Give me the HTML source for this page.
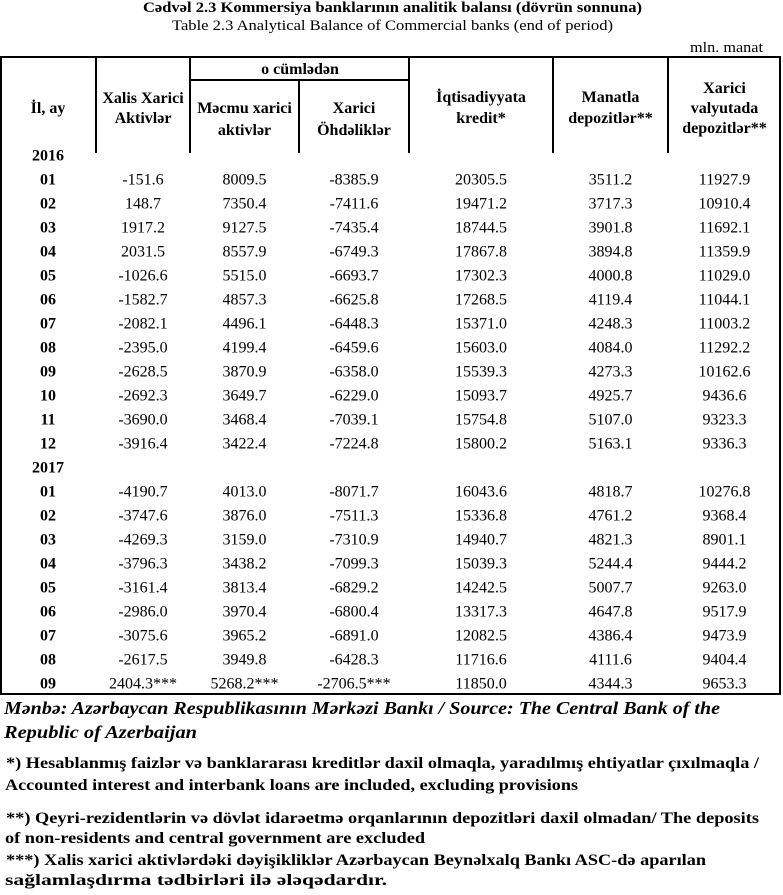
<!DOCTYPE html>
<html><head><meta charset="utf-8">
<style>
html,body{margin:0;padding:0;background:#fff;}
svg{display:block;}
text{font-family:"Liberation Serif","DejaVu Serif",serif;fill:#000;}
.d{font-size:16px;text-anchor:middle;}
.b{font-size:16px;font-weight:bold;text-anchor:middle;}
.h{font-size:16px;font-weight:bold;text-anchor:middle;}
.f{font-size:16px;font-weight:bold;}
.s{font-size:18px;font-weight:bold;font-style:italic;}
</style></head>
<body>
<svg width="783" height="895" viewBox="0 0 783 895" xmlns="http://www.w3.org/2000/svg">
<rect x="0" y="0" width="783" height="895" fill="#fff"/>
<text x="143" y="12" style="font-size:15px;font-weight:bold" textLength="499" lengthAdjust="spacingAndGlyphs">Cədvəl  2.3  Kommersiya banklarının analitik balansı (dövrün sonnuna)</text>
<text x="172" y="30" style="font-size:15px" textLength="441" lengthAdjust="spacingAndGlyphs">Table  2.3  Analytical Balance of Commercial banks (end of period)</text>
<text x="690" y="52" style="font-size:15px" textLength="73" lengthAdjust="spacingAndGlyphs">mln. manat</text>

<g stroke="#000" stroke-width="2" fill="none">
<rect x="1" y="57" width="779" height="637"/>
<line x1="96" y1="57" x2="96" y2="153"/>
<line x1="190" y1="57" x2="190" y2="153"/>
<line x1="299" y1="80" x2="299" y2="153"/>
<line x1="409" y1="57" x2="409" y2="153"/>
<line x1="553" y1="57" x2="553" y2="153"/>
<line x1="668" y1="57" x2="668" y2="153"/>
<line x1="190" y1="80" x2="409" y2="80"/>
</g>

<text class="h" x="48" y="113">İl, ay</text>
<text class="h" x="143" y="103">Xalis Xarici</text>
<text class="h" x="143" y="123">Aktivlər</text>
<text class="h" x="300" y="74">o cümlədən</text>
<text class="h" x="244.5" y="113">Məcmu xarici</text>
<text class="h" x="244.5" y="135">aktivlər</text>
<text class="h" x="354" y="113">Xarici</text>
<text class="h" x="354" y="135">Öhdəliklər</text>
<text class="h" x="481" y="102">İqtisadiyyata</text>
<text class="h" x="481" y="123">kredit*</text>
<text class="h" x="610.5" y="102">Manatla</text>
<text class="h" x="610.5" y="123">depozitlər**</text>
<text class="h" x="724.5" y="93">Xarici</text>
<text class="h" x="724.5" y="113">valyutada</text>
<text class="h" x="724.5" y="133">depozitlər**</text>

<text class="b" x="48" y="160.5">2016</text>

<g>
<text class="b" x="48" y="184.5">01</text><text class="d" x="143" y="184.5">-151.6</text><text class="d" x="244.5" y="184.5">8009.5</text><text class="d" x="354" y="184.5">-8385.9</text><text class="d" x="481" y="184.5">20305.5</text><text class="d" x="610.5" y="184.5">3511.2</text><text class="d" x="724.5" y="184.5">11927.9</text>
<text class="b" x="48" y="208.5">02</text><text class="d" x="143" y="208.5">148.7</text><text class="d" x="244.5" y="208.5">7350.4</text><text class="d" x="354" y="208.5">-7411.6</text><text class="d" x="481" y="208.5">19471.2</text><text class="d" x="610.5" y="208.5">3717.3</text><text class="d" x="724.5" y="208.5">10910.4</text>
<text class="b" x="48" y="232.5">03</text><text class="d" x="143" y="232.5">1917.2</text><text class="d" x="244.5" y="232.5">9127.5</text><text class="d" x="354" y="232.5">-7435.4</text><text class="d" x="481" y="232.5">18744.5</text><text class="d" x="610.5" y="232.5">3901.8</text><text class="d" x="724.5" y="232.5">11692.1</text>
<text class="b" x="48" y="256.5">04</text><text class="d" x="143" y="256.5">2031.5</text><text class="d" x="244.5" y="256.5">8557.9</text><text class="d" x="354" y="256.5">-6749.3</text><text class="d" x="481" y="256.5">17867.8</text><text class="d" x="610.5" y="256.5">3894.8</text><text class="d" x="724.5" y="256.5">11359.9</text>
<text class="b" x="48" y="280.5">05</text><text class="d" x="143" y="280.5">-1026.6</text><text class="d" x="244.5" y="280.5">5515.0</text><text class="d" x="354" y="280.5">-6693.7</text><text class="d" x="481" y="280.5">17302.3</text><text class="d" x="610.5" y="280.5">4000.8</text><text class="d" x="724.5" y="280.5">11029.0</text>
<text class="b" x="48" y="304.5">06</text><text class="d" x="143" y="304.5">-1582.7</text><text class="d" x="244.5" y="304.5">4857.3</text><text class="d" x="354" y="304.5">-6625.8</text><text class="d" x="481" y="304.5">17268.5</text><text class="d" x="610.5" y="304.5">4119.4</text><text class="d" x="724.5" y="304.5">11044.1</text>
<text class="b" x="48" y="328.5">07</text><text class="d" x="143" y="328.5">-2082.1</text><text class="d" x="244.5" y="328.5">4496.1</text><text class="d" x="354" y="328.5">-6448.3</text><text class="d" x="481" y="328.5">15371.0</text><text class="d" x="610.5" y="328.5">4248.3</text><text class="d" x="724.5" y="328.5">11003.2</text>
<text class="b" x="48" y="352.5">08</text><text class="d" x="143" y="352.5">-2395.0</text><text class="d" x="244.5" y="352.5">4199.4</text><text class="d" x="354" y="352.5">-6459.6</text><text class="d" x="481" y="352.5">15603.0</text><text class="d" x="610.5" y="352.5">4084.0</text><text class="d" x="724.5" y="352.5">11292.2</text>
<text class="b" x="48" y="376.5">09</text><text class="d" x="143" y="376.5">-2628.5</text><text class="d" x="244.5" y="376.5">3870.9</text><text class="d" x="354" y="376.5">-6358.0</text><text class="d" x="481" y="376.5">15539.3</text><text class="d" x="610.5" y="376.5">4273.3</text><text class="d" x="724.5" y="376.5">10162.6</text>
<text class="b" x="48" y="400.5">10</text><text class="d" x="143" y="400.5">-2692.3</text><text class="d" x="244.5" y="400.5">3649.7</text><text class="d" x="354" y="400.5">-6229.0</text><text class="d" x="481" y="400.5">15093.7</text><text class="d" x="610.5" y="400.5">4925.7</text><text class="d" x="724.5" y="400.5">9436.6</text>
<text class="b" x="48" y="424.5">11</text><text class="d" x="143" y="424.5">-3690.0</text><text class="d" x="244.5" y="424.5">3468.4</text><text class="d" x="354" y="424.5">-7039.1</text><text class="d" x="481" y="424.5">15754.8</text><text class="d" x="610.5" y="424.5">5107.0</text><text class="d" x="724.5" y="424.5">9323.3</text>
<text class="b" x="48" y="448.5">12</text><text class="d" x="143" y="448.5">-3916.4</text><text class="d" x="244.5" y="448.5">3422.4</text><text class="d" x="354" y="448.5">-7224.8</text><text class="d" x="481" y="448.5">15800.2</text><text class="d" x="610.5" y="448.5">5163.1</text><text class="d" x="724.5" y="448.5">9336.3</text>
</g>

<text class="b" x="48" y="472.5">2017</text>

<g>
<text class="b" x="48" y="496.5">01</text><text class="d" x="143" y="496.5">-4190.7</text><text class="d" x="244.5" y="496.5">4013.0</text><text class="d" x="354" y="496.5">-8071.7</text><text class="d" x="481" y="496.5">16043.6</text><text class="d" x="610.5" y="496.5">4818.7</text><text class="d" x="724.5" y="496.5">10276.8</text>
<text class="b" x="48" y="520.5">02</text><text class="d" x="143" y="520.5">-3747.6</text><text class="d" x="244.5" y="520.5">3876.0</text><text class="d" x="354" y="520.5">-7511.3</text><text class="d" x="481" y="520.5">15336.8</text><text class="d" x="610.5" y="520.5">4761.2</text><text class="d" x="724.5" y="520.5">9368.4</text>
<text class="b" x="48" y="544.5">03</text><text class="d" x="143" y="544.5">-4269.3</text><text class="d" x="244.5" y="544.5">3159.0</text><text class="d" x="354" y="544.5">-7310.9</text><text class="d" x="481" y="544.5">14940.7</text><text class="d" x="610.5" y="544.5">4821.3</text><text class="d" x="724.5" y="544.5">8901.1</text>
<text class="b" x="48" y="568.5">04</text><text class="d" x="143" y="568.5">-3796.3</text><text class="d" x="244.5" y="568.5">3438.2</text><text class="d" x="354" y="568.5">-7099.3</text><text class="d" x="481" y="568.5">15039.3</text><text class="d" x="610.5" y="568.5">5244.4</text><text class="d" x="724.5" y="568.5">9444.2</text>
<text class="b" x="48" y="592.5">05</text><text class="d" x="143" y="592.5">-3161.4</text><text class="d" x="244.5" y="592.5">3813.4</text><text class="d" x="354" y="592.5">-6829.2</text><text class="d" x="481" y="592.5">14242.5</text><text class="d" x="610.5" y="592.5">5007.7</text><text class="d" x="724.5" y="592.5">9263.0</text>
<text class="b" x="48" y="616.5">06</text><text class="d" x="143" y="616.5">-2986.0</text><text class="d" x="244.5" y="616.5">3970.4</text><text class="d" x="354" y="616.5">-6800.4</text><text class="d" x="481" y="616.5">13317.3</text><text class="d" x="610.5" y="616.5">4647.8</text><text class="d" x="724.5" y="616.5">9517.9</text>
<text class="b" x="48" y="640.5">07</text><text class="d" x="143" y="640.5">-3075.6</text><text class="d" x="244.5" y="640.5">3965.2</text><text class="d" x="354" y="640.5">-6891.0</text><text class="d" x="481" y="640.5">12082.5</text><text class="d" x="610.5" y="640.5">4386.4</text><text class="d" x="724.5" y="640.5">9473.9</text>
<text class="b" x="48" y="664.5">08</text><text class="d" x="143" y="664.5">-2617.5</text><text class="d" x="244.5" y="664.5">3949.8</text><text class="d" x="354" y="664.5">-6428.3</text><text class="d" x="481" y="664.5">11716.6</text><text class="d" x="610.5" y="664.5">4111.6</text><text class="d" x="724.5" y="664.5">9404.4</text>
<text class="b" x="48" y="688.5">09</text><text class="d" x="143" y="688.5">2404.3***</text><text class="d" x="244.5" y="688.5">5268.2***</text><text class="d" x="354" y="688.5">-2706.5***</text><text class="d" x="481" y="688.5">11850.0</text><text class="d" x="610.5" y="688.5">4344.3</text><text class="d" x="724.5" y="688.5">9653.3</text>
</g>

<text class="s" x="4" y="714" textLength="716" lengthAdjust="spacingAndGlyphs">Mənbə: Azərbaycan Respublikasının Mərkəzi Bankı / Source: The Central Bank of the</text>
<text class="s" x="4" y="738" textLength="193" lengthAdjust="spacingAndGlyphs">Republic of Azerbaijan</text>
<text class="f" x="6" y="768" textLength="753" lengthAdjust="spacingAndGlyphs">*) Hesablanmış faizlər və banklararası kreditlər daxil olmaqla, yaradılmış ehtiyatlar çıxılmaqla /</text>
<text class="f" x="5" y="790" textLength="573" lengthAdjust="spacingAndGlyphs">Accounted interest and interbank loans are included, excluding provisions</text>
<text class="f" x="6" y="823" textLength="753" lengthAdjust="spacingAndGlyphs">**) Qeyri-rezidentlərin və dövlət idarəetmə orqanlarının depozitləri  daxil olmadan/ The deposits</text>
<text class="f" x="5" y="843" textLength="420" lengthAdjust="spacingAndGlyphs">of non-residents and central government are excluded</text>
<text class="f" x="6" y="865" textLength="700" lengthAdjust="spacingAndGlyphs">***) Xalis xarici aktivlərdəki dəyişikliklər Azərbaycan Beynəlxalq Bankı ASC-də aparılan</text>
<text class="f" x="5" y="885" textLength="382" lengthAdjust="spacingAndGlyphs">sağlamlaşdırma tədbirləri ilə ələqədardır.</text>
</svg>
</body></html>
